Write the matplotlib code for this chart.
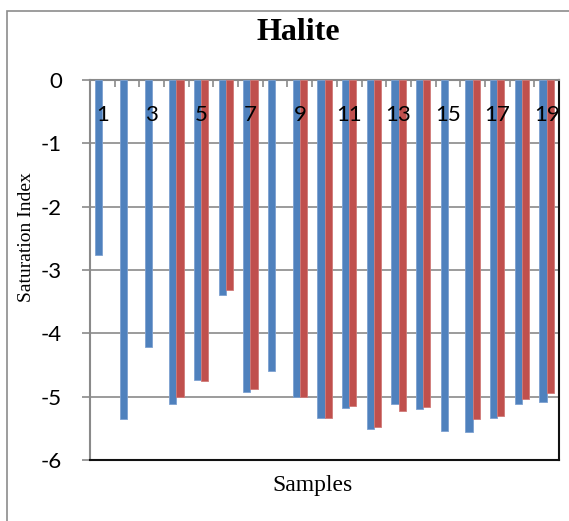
import numpy as np
import matplotlib
matplotlib.use("Agg")
import matplotlib.pyplot as plt
from matplotlib.patches import Rectangle

# Halite saturation index per sample (two series; NaN = no value)
samples = list(range(1, 20))
series_a = [-2.77, -5.35, -4.21, -5.11, -4.73, -3.39, -4.93, -4.60, -5.00, -5.33,
            -5.18, -5.51, -5.12, -5.19, -5.54, -5.56, -5.34, -5.12, -5.08]
series_b = [np.nan, np.nan, np.nan, -5.01, -4.75, -3.31, -4.88, np.nan, -5.00, -5.33,
            -5.14, -5.48, -5.22, -5.16, np.nan, -5.36, -5.31, -5.03, -4.94]
y_ticks = [0, -1, -2, -3, -4, -5, -6]

W, H = 569, 521
fig = plt.figure(figsize=(W / 100, H / 100), dpi=100)

# chart frame (left/top edges)
fig.patches.append(Rectangle((7 / W, -0.1), 1.2, 1 - 11 / H + 0.1,
                             transform=fig.transFigure, fill=False,
                             edgecolor="#8c8c8c", linewidth=1.2))

ax = fig.add_axes([90 / W, 1 - 460 / H, 469 / W, 380 / H])

x = np.array(samples, dtype=float)
bw = 0.29
blue, red = "#4F81BD", "#C0504D"
ax.bar(x - bw / 2, series_a, width=bw, color=blue, edgecolor="#7DA1D0",
       linewidth=0.6, zorder=3)
ax.bar(x + bw / 2, series_b, width=bw, color=red, edgecolor="#D07A78",
       linewidth=0.6, zorder=3)

ax.set_xlim(0.5, 19.5)
ax.set_ylim(-6, 0)

# horizontal gridlines
ax.set_yticks(y_ticks)
ax.set_yticklabels([str(v) for v in y_ticks], fontfamily="Lato", fontsize=16)
ax.yaxis.grid(True, color="#8a8a8a", linewidth=1.2, zorder=0)
ax.tick_params(axis="y", length=6, width=1.2, color="#8a8a8a", pad=14)

# category axis sits at zero: boundary ticks point down into the plot
ax.set_xticks([])
ax.set_xticks(np.arange(0.5, 20.0, 1.0), minor=True)
ax.xaxis.set_ticks_position("top")
ax.tick_params(axis="x", which="minor", direction="in", length=5, width=1.2,
               color="#8a8a8a", labeltop=False)
for s in samples:
    if s % 2 == 1:
        ax.text(s, -0.55, str(s), ha="center", va="center",
                fontfamily="Lato", fontsize=16, zorder=4)

for side in ("left", "top"):
    ax.spines[side].set_color("#8a8a8a")
    ax.spines[side].set_linewidth(1.5)
for side in ("right", "bottom"):
    ax.spines[side].set_color("#111111")
    ax.spines[side].set_linewidth(1.5)

fig.text(298 / W, 1 - 33 / H, "Halite", ha="center", va="center",
         fontfamily="Liberation Serif", fontweight="bold", fontsize=23)
fig.text(313 / W, 1 - 486 / H, "Samples", ha="center", va="center",
         fontfamily="Liberation Serif", fontsize=17)
fig.text(27 / W, 1 - 237 / H, "Saturation Index", ha="center", va="center",
         rotation=90, fontfamily="Liberation Serif", fontsize=14)

fig.savefig("out.png", dpi=100)
